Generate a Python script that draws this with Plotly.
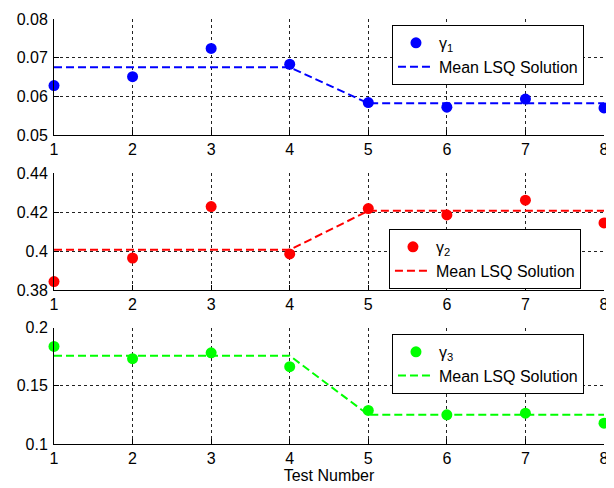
import plotly.graph_objects as go

tests = [1, 2, 3, 4, 5, 6, 7, 8]

gamma1 = [0.0628, 0.0651, 0.0724, 0.0683, 0.0584, 0.0572, 0.0593, 0.0570]
mean1 = [0.0675, 0.0675, 0.0675, 0.0675, 0.0582, 0.0582, 0.0582, 0.0582]

gamma2 = [0.3844, 0.3965, 0.4229, 0.3986, 0.4219, 0.4186, 0.4262, 0.4145]
mean2 = [0.4007, 0.4007, 0.4007, 0.4007, 0.4207, 0.4207, 0.4207, 0.4207]

gamma3 = [0.1838, 0.1733, 0.1783, 0.1664, 0.1288, 0.1251, 0.1265, 0.1179]
mean3 = [0.1758, 0.1758, 0.1758, 0.1758, 0.1251, 0.1251, 0.1251, 0.1251]

yticks1 = [0.05, 0.06, 0.07, 0.08]
ytext1 = ["0.05", "0.06", "0.07", "0.08"]
yticks2 = [0.38, 0.40, 0.42, 0.44]
ytext2 = ["0.38", "0.4", "0.42", "0.44"]
yticks3 = [0.10, 0.15, 0.20]
ytext3 = ["0.1", "0.15", "0.2"]

panels = [
    ("γ<sub>1</sub>", gamma1, mean1, "#0000FF", yticks1, ytext1, [0.05, 0.08]),
    ("γ<sub>2</sub>", gamma2, mean2, "#FF0000", yticks2, ytext2, [0.38, 0.44]),
    ("γ<sub>3</sub>", gamma3, mean3, "#00FF00", yticks3, ytext3, [0.10, 0.20]),
]

domains = [[0.727, 1.0], [0.362, 0.637], [0.0, 0.274]]
legend_pos = [(0.6145, 0.986), (0.609, 0.506), (0.6145, 0.259)]

FONT = "Arial, Liberation Sans, sans-serif"

fig = go.Figure()
layout = dict(
    width=606, height=480,
    margin=dict(l=46, r=10, t=11, b=44, autoexpand=False),
    paper_bgcolor="white", plot_bgcolor="white",
    font=dict(family=FONT, size=16, color="black"),
    showlegend=True,
)

for i, (name, g, m, col, yt, ytt, yr) in enumerate(panels):
    k = "" if i == 0 else str(i + 1)
    leg = "legend" + k
    fig.add_trace(go.Scatter(
        x=tests, y=g, mode="markers", name=name,
        marker=dict(color=col, size=11, symbol="circle"),
        xaxis="x" + k, yaxis="y" + k, legend=leg, cliponaxis=False,
    ))
    fig.add_trace(go.Scatter(
        x=tests, y=m, mode="lines", name="Mean LSQ Solution",
        line=dict(color=col, width=2, dash="8px,4px"),
        xaxis="x" + k, yaxis="y" + k, legend=leg, cliponaxis=False,
    ))
    axis_common = dict(
        showline=True, linecolor="black", linewidth=1, mirror=False,
        showgrid=True, gridcolor="#222222", griddash="3px,3px", gridwidth=1,
        ticks="inside", ticklen=5, tickcolor="black", automargin=False,
        zeroline=False, tickfont=dict(family=FONT, size=16, color="black"),
    )
    layout["xaxis" + k] = dict(
        axis_common, domain=[0, 1], range=[1, 8], anchor="y" + k,
        tickvals=tests, ticktext=[str(t) for t in tests],
    )
    layout["yaxis" + k] = dict(
        axis_common, domain=domains[i], range=yr, anchor="x" + k,
        tickvals=yt, ticktext=ytt, ticklabelstandoff=2,
    )
    lx, ly = legend_pos[i]
    layout[leg] = dict(
        x=lx, y=ly, xanchor="left", yanchor="top",
        bgcolor="white", bordercolor="black", borderwidth=1,
        font=dict(family=FONT, size=16, color="black"),
        tracegroupgap=0, itemwidth=36,
    )

layout["xaxis3"]["title"] = dict(text="Test Number", font=dict(family=FONT, size=16, color="black"), standoff=2)

fig.update_layout(**layout)
fig.write_html("out.html")
